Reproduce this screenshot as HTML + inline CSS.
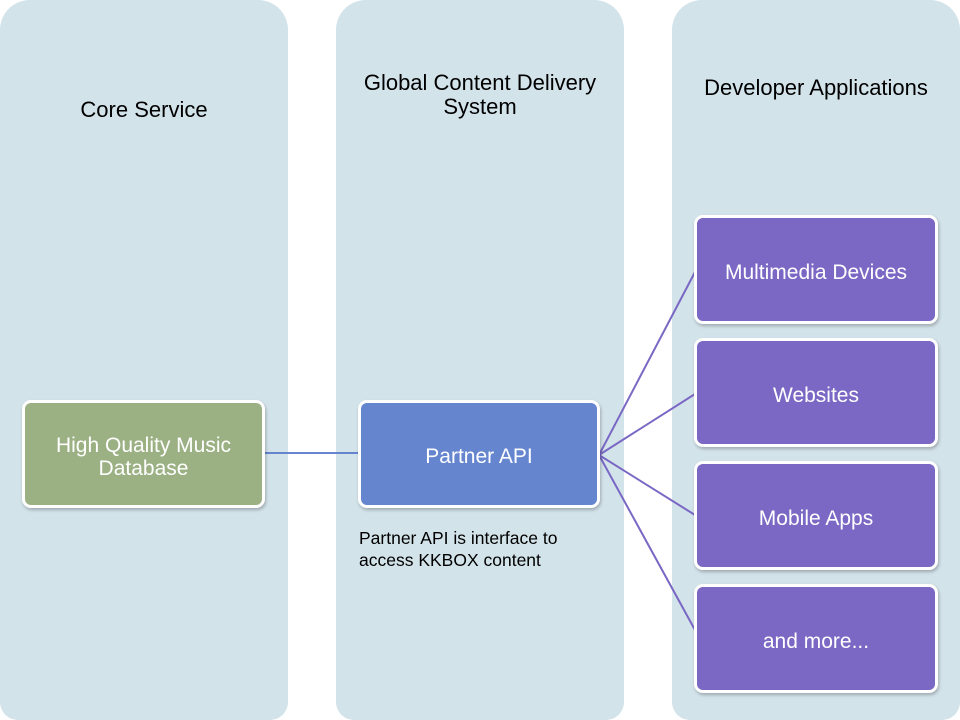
<!DOCTYPE html>
<html style="overflow:hidden;height:720px"><head><style>
body{margin:0;width:960px;height:720px;background:#fff;position:relative;overflow:hidden;font-family:"Liberation Sans",sans-serif}
.col{position:absolute;top:0;height:720px;width:288px;background:#d3e3ea;border-radius:30px 30px 18px 18px}
.h{position:absolute;text-align:center;font-size:22px;color:#000;line-height:24px}
.b{position:absolute;box-sizing:border-box;border:3px solid #fff;border-radius:9px;color:#fff;font-size:21px;display:flex;align-items:center;justify-content:center;text-align:center;line-height:23px;padding-top:5px;box-shadow:1px 2px 3px rgba(0,0,0,0.25)}
.p{background:#7a68c4;left:694px;width:244px;height:109px}
</style></head><body>
<div class="col" style="left:0"></div>
<div class="col" style="left:336px"></div>
<div class="col" style="left:672px"></div>
<div class="h" style="left:0;width:288px;top:98px">Core Service</div>
<div class="h" style="left:336px;width:288px;top:71px">Global Content Delivery<br>System</div>
<div class="h" style="left:672px;width:288px;top:76px">Developer Applications</div>
<svg style="position:absolute;left:0;top:0" width="960" height="720">
<line x1="264" y1="453" x2="360" y2="453" stroke="#6585cf" stroke-width="2"/>
<g stroke="#7a68c4" stroke-width="2">
<line x1="599" y1="455" x2="695" y2="272"/>
<line x1="599" y1="455" x2="695" y2="394"/>
<line x1="599" y1="455" x2="695" y2="515"/>
<line x1="599" y1="455" x2="695" y2="630"/>
</g></svg>
<div class="b" style="left:22px;top:400px;width:243px;height:108px;background:#9bb083">High Quality Music<br>Database</div>
<div class="b" style="left:358px;top:400px;width:242px;height:108px;background:#6585cf">Partner API</div>
<div style="position:absolute;left:359px;top:527px;font-size:17.5px;line-height:22px">Partner API is interface to<br>access KKBOX content</div>
<div class="b p" style="top:215px">Multimedia Devices</div>
<div class="b p" style="top:338px">Websites</div>
<div class="b p" style="top:461px">Mobile Apps</div>
<div class="b p" style="top:584px">and more...</div>
</body></html>
